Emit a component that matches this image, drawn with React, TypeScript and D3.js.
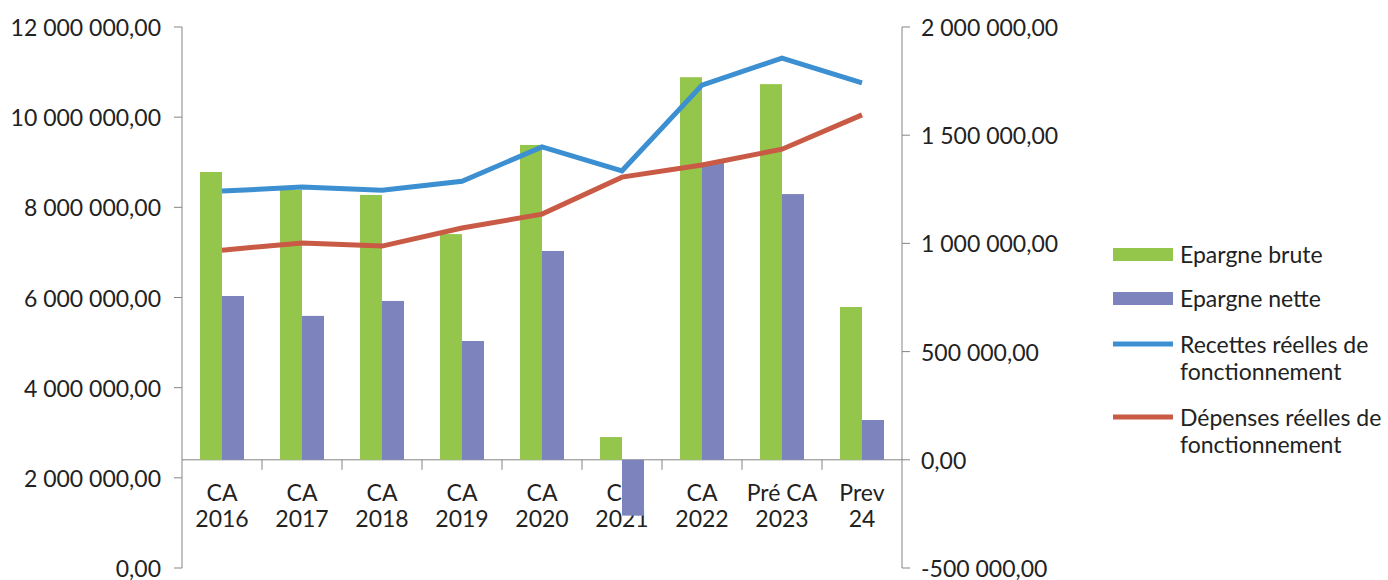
import React from "react";
import * as d3 from "d3";

const categories = [
  ["CA", "2016"],
  ["CA", "2017"],
  ["CA", "2018"],
  ["CA", "2019"],
  ["CA", "2020"],
  ["CA", "2021"],
  ["CA", "2022"],
  ["Pré CA", "2023"],
  ["Prev", "24"],
];

const epargneBrute = [1330000, 1247000, 1224000, 1043000, 1455000, 105000, 1768000, 1736000, 706000];
const epargneNette = [757000, 665000, 734000, 549000, 965000, -258000, 1372000, 1228000, 184000];
const recettes = [8360000, 8450000, 8380000, 8580000, 9340000, 8810000, 10710000, 11310000, 10760000];
const depenses = [7050000, 7210000, 7140000, 7540000, 7850000, 8670000, 8940000, 9290000, 10050000];

const leftTicks = [0, 2000000, 4000000, 6000000, 8000000, 10000000, 12000000];
const rightTicks = [-500000, 0, 500000, 1000000, 1500000, 2000000];

const legendLabels = [
  ["Epargne brute"],
  ["Epargne nette"],
  ["Recettes réelles de", "fonctionnement"],
  ["Dépenses réelles de", "fonctionnement"],
];

const GREEN = "#94c64b";
const PURPLE = "#7d84bd";
const BLUE = "#3c8fd0";
const RED = "#c95a45";
const AXIS = "#858585";
const TEXT = "#222";
const FONT = "Lato, 'Open Sans', sans-serif";

const locale = d3.formatLocale({
  decimal: ",",
  thousands: " ",
  grouping: [3],
  currency: ["", ""],
  minus: "-",
});
const fmt = locale.format(",.2f");

export default function App() {
  const left = 182;
  const right = 902;
  const top = 27;
  const bottom = 568;
  const keys = categories.map((c) => c.join(" "));

  const x = d3.scaleBand<string>().domain(keys).range([left, right]);
  const bw = x.bandwidth();
  const xSub = d3
    .scaleBand<string>()
    .domain(["brute", "nette"])
    .range([bw * 0.225, bw * 0.775]);

  const yL = d3.scaleLinear().domain([0, 12000000]).range([bottom, top]);
  const yR = d3.scaleLinear().domain([-500000, 2000000]).range([bottom, top]);
  const zeroY = yR(0);

  const line = d3
    .line<number>()
    .x((_, i) => (x(keys[i]) as number) + bw / 2)
    .y((d) => yL(d));

  const barsFor = (vals: number[], key: string, color: string) =>
    vals.map((v, i) => {
      const y0 = yR(Math.max(0, v));
      const y1 = yR(Math.min(0, v));
      return (
        <rect
          key={key + i}
          x={(x(keys[i]) as number) + (xSub(key) as number)}
          y={y0}
          width={xSub.bandwidth()}
          height={y1 - y0}
          fill={color}
        />
      );
    });

  const legendX = 1113;
  const legendY = [254, 298, 344, 417];
  const FS = 23;

  return (
    <div style={{ position: "absolute", left: 0, top: 0 }}>
      <svg width={1388} height={580} style={{ display: "block", background: "#fff" }} fontFamily={FONT}>
        {/* left axis */}
        <line x1={left} x2={left} y1={top} y2={bottom} stroke={AXIS} strokeWidth={1} />
        {leftTicks.map((t) => (
          <g key={"l" + t}>
            <line x1={left - 8} x2={left} y1={yL(t)} y2={yL(t)} stroke={AXIS} />
            <text x={left - 21} y={yL(t)} textAnchor="end" dominantBaseline="central" fontSize={FS} fill={TEXT}>
              {fmt(t)}
            </text>
          </g>
        ))}
        {/* right axis */}
        <line x1={right} x2={right} y1={top} y2={bottom} stroke={AXIS} strokeWidth={1} />
        {rightTicks.map((t) => (
          <g key={"r" + t}>
            <line x1={right} x2={right + 8} y1={yR(t)} y2={yR(t)} stroke={AXIS} />
            <text x={right + 19} y={yR(t)} textAnchor="start" dominantBaseline="central" fontSize={FS} fill={TEXT}>
              {fmt(t)}
            </text>
          </g>
        ))}
        {/* x axis */}
        <line x1={left} x2={right} y1={zeroY} y2={zeroY} stroke={AXIS} strokeWidth={1} />
        {keys.slice(1).map((k) => (
          <line key={"xt" + k} x1={x(k) as number} x2={x(k) as number} y1={zeroY} y2={zeroY + 10} stroke={AXIS} />
        ))}
        {categories.map((c, i) => (
          <text key={"c" + i} x={(x(keys[i]) as number) + bw / 2} textAnchor="middle" fontSize={FS} fill={TEXT}>
            <tspan x={(x(keys[i]) as number) + bw / 2} y={501}>
              {c[0]}
            </tspan>
            <tspan x={(x(keys[i]) as number) + bw / 2} y={527}>
              {c[1]}
            </tspan>
          </text>
        ))}
        {/* bars */}
        {barsFor(epargneBrute, "brute", GREEN)}
        {barsFor(epargneNette, "nette", PURPLE)}
        {/* lines */}
        <path d={line(depenses) as string} fill="none" stroke={RED} strokeWidth={5} />
        <path d={line(recettes) as string} fill="none" stroke={BLUE} strokeWidth={5} />
        {/* legend */}
        <rect x={legendX} y={legendY[0] - 6} width={60} height={13} fill={GREEN} />
        <rect x={legendX} y={legendY[1] - 6} width={60} height={13} fill={PURPLE} />
        <line x1={legendX} x2={legendX + 60} y1={legendY[2]} y2={legendY[2]} stroke={BLUE} strokeWidth={5} />
        <line x1={legendX} x2={legendX + 60} y1={legendY[3]} y2={legendY[3]} stroke={RED} strokeWidth={5} />
        {legendLabels.map((lines, i) => (
          <text key={"lg" + i} fontSize={FS} fill={TEXT}>
            {lines.map((s, j) => (
              <tspan key={j} x={legendX + 67} y={legendY[i] + j * 27} dominantBaseline="central">
                {s}
              </tspan>
            ))}
          </text>
        ))}
      </svg>
    </div>
  );
}
